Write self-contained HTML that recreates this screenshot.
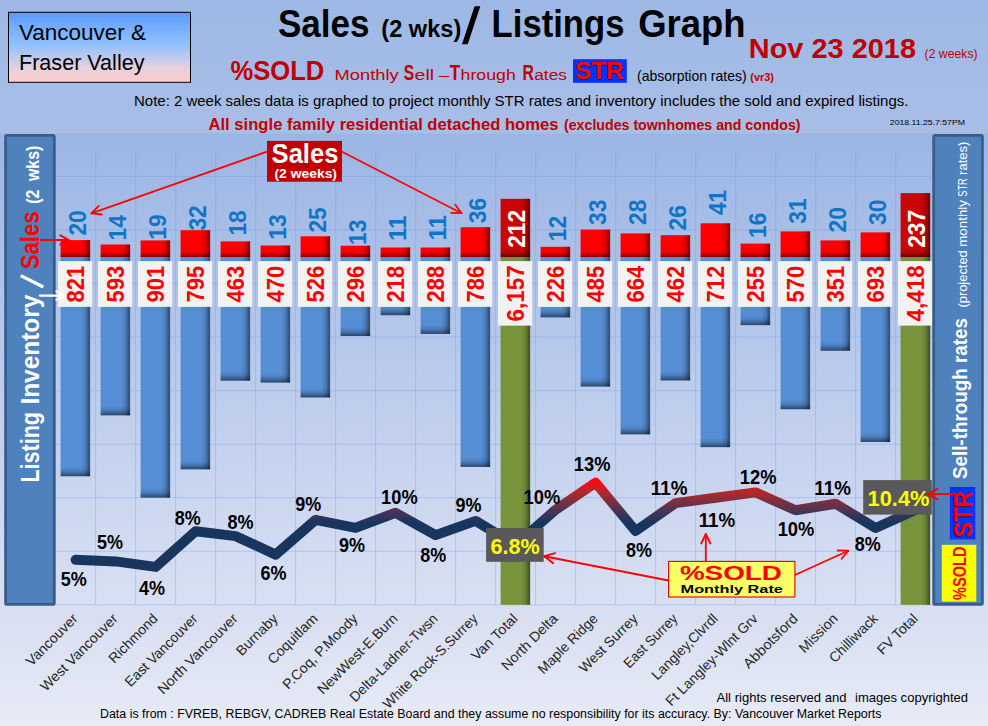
<!DOCTYPE html>
<html><head><meta charset="utf-8"><title>Sales / Listings Graph</title>
<style>
html,body{margin:0;padding:0;background:#e7ebf7;}
body{width:988px;height:726px;overflow:hidden;font-family:"Liberation Sans", sans-serif;}
svg{display:block;font-family:"Liberation Sans", sans-serif;}
text{font-family:"Liberation Sans", sans-serif;}
.b{font-weight:bold;}
</style></head><body>
<svg width="988" height="726" viewBox="0 0 988 726">
<defs>
<linearGradient id="bg" x1="0" y1="0" x2="0" y2="1">
<stop offset="0" stop-color="#9db8e5"/><stop offset="0.18" stop-color="#a9bee7"/><stop offset="0.86" stop-color="#dae0f2"/><stop offset="1" stop-color="#e7ebf7"/></linearGradient>
<linearGradient id="plot" x1="0" y1="0" x2="0" y2="1">
<stop offset="0" stop-color="#9bb5e4"/><stop offset="1" stop-color="#d9e0f3"/></linearGradient>
<linearGradient id="vbox" x1="0" y1="0" x2="0" y2="1">
<stop offset="0" stop-color="#5b9bff"/><stop offset="0.45" stop-color="#8fc0ff"/><stop offset="0.8" stop-color="#e6d0de"/><stop offset="1" stop-color="#ffcccc"/></linearGradient>
<linearGradient id="redbar" x1="0" y1="0" x2="0" y2="1">
<stop offset="0" stop-color="#ff0000"/><stop offset="0.55" stop-color="#ff0000"/><stop offset="1" stop-color="#b00000"/></linearGradient>
<linearGradient id="edgeR" x1="0" y1="0" x2="1" y2="0">
<stop offset="0" stop-color="#000" stop-opacity="0"/><stop offset="0.7" stop-color="#000" stop-opacity="0"/><stop offset="0.84" stop-color="#000" stop-opacity="0.13"/><stop offset="1" stop-color="#000" stop-opacity="0.48"/></linearGradient>
<linearGradient id="edgeB" x1="0" y1="0" x2="0" y2="1">
<stop offset="0" stop-color="#000" stop-opacity="0"/><stop offset="0.45" stop-color="#000" stop-opacity="0.12"/><stop offset="1" stop-color="#000" stop-opacity="0.5"/></linearGradient>
<linearGradient id="lineg" gradientUnits="userSpaceOnUse" x1="0" y1="481" x2="0" y2="523">
<stop offset="0" stop-color="#ff0a0a"/><stop offset="0.25" stop-color="#b6272b"/><stop offset="0.5" stop-color="#7a3040"/><stop offset="0.75" stop-color="#433458"/><stop offset="1" stop-color="#18355e"/></linearGradient>
<linearGradient id="totred" x1="0" y1="0" x2="0" y2="1">
<stop offset="0" stop-color="#d00000"/><stop offset="0.7" stop-color="#c00000"/><stop offset="1" stop-color="#8a0000"/></linearGradient>
</defs>
<rect x="0" y="0" width="988" height="726" fill="url(#bg)"/>
<rect x="0" y="133.5" width="988" height="471.9" fill="url(#plot)"/>

<g stroke="#6f9fe8" stroke-opacity="0.37" stroke-width="1" fill="none">
<line x1="95.6" y1="149" x2="95.6" y2="604.8"/>
<line x1="135.6" y1="149" x2="135.6" y2="604.8"/>
<line x1="175.6" y1="149" x2="175.6" y2="604.8"/>
<line x1="215.6" y1="149" x2="215.6" y2="604.8"/>
<line x1="255.6" y1="149" x2="255.6" y2="604.8"/>
<line x1="295.6" y1="149" x2="295.6" y2="604.8"/>
<line x1="335.6" y1="149" x2="335.6" y2="604.8"/>
<line x1="375.6" y1="149" x2="375.6" y2="604.8"/>
<line x1="415.6" y1="149" x2="415.6" y2="604.8"/>
<line x1="455.6" y1="149" x2="455.6" y2="604.8"/>
<line x1="495.6" y1="149" x2="495.6" y2="604.8"/>
<line x1="535.6" y1="149" x2="535.6" y2="604.8"/>
<line x1="575.6" y1="149" x2="575.6" y2="604.8"/>
<line x1="615.6" y1="149" x2="615.6" y2="604.8"/>
<line x1="655.6" y1="149" x2="655.6" y2="604.8"/>
<line x1="695.6" y1="149" x2="695.6" y2="604.8"/>
<line x1="735.6" y1="149" x2="735.6" y2="604.8"/>
<line x1="775.6" y1="149" x2="775.6" y2="604.8"/>
<line x1="815.6" y1="149" x2="815.6" y2="604.8"/>
<line x1="855.6" y1="149" x2="855.6" y2="604.8"/>
<line x1="895.6" y1="149" x2="895.6" y2="604.8"/>
<line x1="56" y1="176.5" x2="932" y2="176.5"/>
<line x1="56" y1="230.0" x2="932" y2="230.0"/>
<line x1="56" y1="283.6" x2="932" y2="283.6"/>
<line x1="56" y1="337.1" x2="932" y2="337.1"/>
<line x1="56" y1="390.7" x2="932" y2="390.7"/>
<line x1="56" y1="444.2" x2="932" y2="444.2"/>
<line x1="56" y1="497.7" x2="932" y2="497.7"/>
<line x1="56" y1="551.3" x2="932" y2="551.3"/>
<line x1="56" y1="604.8" x2="932" y2="604.8"/>
</g>
<rect x="60.6" y="257.0" width="29.5" height="219.2" fill="#558ed5"/>
<rect x="60.6" y="466.8" width="29.5" height="9.4" fill="url(#edgeB)"/>
<rect x="60.6" y="257.0" width="29.5" height="219.2" fill="url(#edgeR)"/>
<rect x="60.6" y="240.1" width="29.5" height="16.9" fill="#ff0000"/>
<rect x="60.6" y="250.2" width="29.5" height="6.8" fill="url(#edgeB)"/>
<rect x="60.6" y="240.1" width="29.5" height="16.9" fill="url(#edgeR)"/>
<rect x="100.6" y="257.0" width="29.5" height="158.3" fill="#558ed5"/>
<rect x="100.6" y="405.9" width="29.5" height="9.4" fill="url(#edgeB)"/>
<rect x="100.6" y="257.0" width="29.5" height="158.3" fill="url(#edgeR)"/>
<rect x="100.6" y="244.5" width="29.5" height="12.5" fill="#ff0000"/>
<rect x="100.6" y="250.2" width="29.5" height="6.8" fill="url(#edgeB)"/>
<rect x="100.6" y="244.5" width="29.5" height="12.5" fill="url(#edgeR)"/>
<rect x="140.6" y="257.0" width="29.5" height="240.6" fill="#558ed5"/>
<rect x="140.6" y="488.2" width="29.5" height="9.4" fill="url(#edgeB)"/>
<rect x="140.6" y="257.0" width="29.5" height="240.6" fill="url(#edgeR)"/>
<rect x="140.6" y="240.4" width="29.5" height="16.6" fill="#ff0000"/>
<rect x="140.6" y="250.2" width="29.5" height="6.8" fill="url(#edgeB)"/>
<rect x="140.6" y="240.4" width="29.5" height="16.6" fill="url(#edgeR)"/>
<rect x="180.6" y="257.0" width="29.5" height="212.3" fill="#558ed5"/>
<rect x="180.6" y="459.9" width="29.5" height="9.4" fill="url(#edgeB)"/>
<rect x="180.6" y="257.0" width="29.5" height="212.3" fill="url(#edgeR)"/>
<rect x="180.6" y="230.2" width="29.5" height="26.8" fill="#ff0000"/>
<rect x="180.6" y="250.2" width="29.5" height="6.8" fill="url(#edgeB)"/>
<rect x="180.6" y="230.2" width="29.5" height="26.8" fill="url(#edgeR)"/>
<rect x="220.6" y="257.0" width="29.5" height="123.6" fill="#558ed5"/>
<rect x="220.6" y="371.2" width="29.5" height="9.4" fill="url(#edgeB)"/>
<rect x="220.6" y="257.0" width="29.5" height="123.6" fill="url(#edgeR)"/>
<rect x="220.6" y="241.4" width="29.5" height="15.6" fill="#ff0000"/>
<rect x="220.6" y="250.2" width="29.5" height="6.8" fill="url(#edgeB)"/>
<rect x="220.6" y="241.4" width="29.5" height="15.6" fill="url(#edgeR)"/>
<rect x="260.6" y="257.0" width="29.5" height="125.5" fill="#558ed5"/>
<rect x="260.6" y="373.1" width="29.5" height="9.4" fill="url(#edgeB)"/>
<rect x="260.6" y="257.0" width="29.5" height="125.5" fill="url(#edgeR)"/>
<rect x="260.6" y="245.5" width="29.5" height="11.5" fill="#ff0000"/>
<rect x="260.6" y="250.2" width="29.5" height="6.8" fill="url(#edgeB)"/>
<rect x="260.6" y="245.5" width="29.5" height="11.5" fill="url(#edgeR)"/>
<rect x="300.6" y="257.0" width="29.5" height="140.4" fill="#558ed5"/>
<rect x="300.6" y="388.0" width="29.5" height="9.4" fill="url(#edgeB)"/>
<rect x="300.6" y="257.0" width="29.5" height="140.4" fill="url(#edgeR)"/>
<rect x="300.6" y="236.3" width="29.5" height="20.7" fill="#ff0000"/>
<rect x="300.6" y="250.2" width="29.5" height="6.8" fill="url(#edgeB)"/>
<rect x="300.6" y="236.3" width="29.5" height="20.7" fill="url(#edgeR)"/>
<rect x="340.6" y="257.0" width="29.5" height="79.0" fill="#558ed5"/>
<rect x="340.6" y="326.6" width="29.5" height="9.4" fill="url(#edgeB)"/>
<rect x="340.6" y="257.0" width="29.5" height="79.0" fill="url(#edgeR)"/>
<rect x="340.6" y="245.7" width="29.5" height="11.3" fill="#ff0000"/>
<rect x="340.6" y="250.2" width="29.5" height="6.8" fill="url(#edgeB)"/>
<rect x="340.6" y="245.7" width="29.5" height="11.3" fill="url(#edgeR)"/>
<rect x="380.6" y="257.0" width="29.5" height="58.2" fill="#558ed5"/>
<rect x="380.6" y="305.8" width="29.5" height="9.4" fill="url(#edgeB)"/>
<rect x="380.6" y="257.0" width="29.5" height="58.2" fill="url(#edgeR)"/>
<rect x="380.6" y="247.5" width="29.5" height="9.5" fill="#ff0000"/>
<rect x="380.6" y="250.2" width="29.5" height="6.8" fill="url(#edgeB)"/>
<rect x="380.6" y="247.5" width="29.5" height="9.5" fill="url(#edgeR)"/>
<rect x="420.6" y="257.0" width="29.5" height="76.9" fill="#558ed5"/>
<rect x="420.6" y="324.5" width="29.5" height="9.4" fill="url(#edgeB)"/>
<rect x="420.6" y="257.0" width="29.5" height="76.9" fill="url(#edgeR)"/>
<rect x="420.6" y="247.5" width="29.5" height="9.5" fill="#ff0000"/>
<rect x="420.6" y="250.2" width="29.5" height="6.8" fill="url(#edgeB)"/>
<rect x="420.6" y="247.5" width="29.5" height="9.5" fill="url(#edgeR)"/>
<rect x="460.6" y="257.0" width="29.5" height="209.9" fill="#558ed5"/>
<rect x="460.6" y="457.5" width="29.5" height="9.4" fill="url(#edgeB)"/>
<rect x="460.6" y="257.0" width="29.5" height="209.9" fill="url(#edgeR)"/>
<rect x="460.6" y="227.2" width="29.5" height="29.8" fill="#ff0000"/>
<rect x="460.6" y="250.2" width="29.5" height="6.8" fill="url(#edgeB)"/>
<rect x="460.6" y="227.2" width="29.5" height="29.8" fill="url(#edgeR)"/>
<rect x="500.6" y="257.0" width="29.5" height="347.8" fill="#77933c"/>
<rect x="500.6" y="604.8" width="29.5" height="0.0" fill="url(#edgeB)"/>
<rect x="500.6" y="257.0" width="29.5" height="347.8" fill="url(#edgeR)"/>
<rect x="500.6" y="198.8" width="29.5" height="58.2" fill="#c90505"/>
<rect x="500.6" y="249.5" width="29.5" height="7.5" fill="url(#edgeB)"/>
<rect x="500.6" y="198.8" width="29.5" height="58.2" fill="url(#edgeR)"/>
<rect x="540.6" y="257.0" width="29.5" height="60.3" fill="#558ed5"/>
<rect x="540.6" y="307.9" width="29.5" height="9.4" fill="url(#edgeB)"/>
<rect x="540.6" y="257.0" width="29.5" height="60.3" fill="url(#edgeR)"/>
<rect x="540.6" y="246.8" width="29.5" height="10.2" fill="#ff0000"/>
<rect x="540.6" y="250.2" width="29.5" height="6.8" fill="url(#edgeB)"/>
<rect x="540.6" y="246.8" width="29.5" height="10.2" fill="url(#edgeR)"/>
<rect x="580.6" y="257.0" width="29.5" height="129.5" fill="#558ed5"/>
<rect x="580.6" y="377.1" width="29.5" height="9.4" fill="url(#edgeB)"/>
<rect x="580.6" y="257.0" width="29.5" height="129.5" fill="url(#edgeR)"/>
<rect x="580.6" y="229.6" width="29.5" height="27.4" fill="#ff0000"/>
<rect x="580.6" y="250.2" width="29.5" height="6.8" fill="url(#edgeB)"/>
<rect x="580.6" y="229.6" width="29.5" height="27.4" fill="url(#edgeR)"/>
<rect x="620.6" y="257.0" width="29.5" height="177.3" fill="#558ed5"/>
<rect x="620.6" y="424.9" width="29.5" height="9.4" fill="url(#edgeB)"/>
<rect x="620.6" y="257.0" width="29.5" height="177.3" fill="url(#edgeR)"/>
<rect x="620.6" y="233.4" width="29.5" height="23.6" fill="#ff0000"/>
<rect x="620.6" y="250.2" width="29.5" height="6.8" fill="url(#edgeB)"/>
<rect x="620.6" y="233.4" width="29.5" height="23.6" fill="url(#edgeR)"/>
<rect x="660.6" y="257.0" width="29.5" height="123.4" fill="#558ed5"/>
<rect x="660.6" y="371.0" width="29.5" height="9.4" fill="url(#edgeB)"/>
<rect x="660.6" y="257.0" width="29.5" height="123.4" fill="url(#edgeR)"/>
<rect x="660.6" y="235.2" width="29.5" height="21.8" fill="#ff0000"/>
<rect x="660.6" y="250.2" width="29.5" height="6.8" fill="url(#edgeB)"/>
<rect x="660.6" y="235.2" width="29.5" height="21.8" fill="url(#edgeR)"/>
<rect x="700.6" y="257.0" width="29.5" height="190.1" fill="#558ed5"/>
<rect x="700.6" y="437.7" width="29.5" height="9.4" fill="url(#edgeB)"/>
<rect x="700.6" y="257.0" width="29.5" height="190.1" fill="url(#edgeR)"/>
<rect x="700.6" y="223.3" width="29.5" height="33.7" fill="#ff0000"/>
<rect x="700.6" y="250.2" width="29.5" height="6.8" fill="url(#edgeB)"/>
<rect x="700.6" y="223.3" width="29.5" height="33.7" fill="url(#edgeR)"/>
<rect x="740.6" y="257.0" width="29.5" height="68.1" fill="#558ed5"/>
<rect x="740.6" y="315.7" width="29.5" height="9.4" fill="url(#edgeB)"/>
<rect x="740.6" y="257.0" width="29.5" height="68.1" fill="url(#edgeR)"/>
<rect x="740.6" y="243.6" width="29.5" height="13.4" fill="#ff0000"/>
<rect x="740.6" y="250.2" width="29.5" height="6.8" fill="url(#edgeB)"/>
<rect x="740.6" y="243.6" width="29.5" height="13.4" fill="url(#edgeR)"/>
<rect x="780.6" y="257.0" width="29.5" height="152.2" fill="#558ed5"/>
<rect x="780.6" y="399.8" width="29.5" height="9.4" fill="url(#edgeB)"/>
<rect x="780.6" y="257.0" width="29.5" height="152.2" fill="url(#edgeR)"/>
<rect x="780.6" y="231.4" width="29.5" height="25.6" fill="#ff0000"/>
<rect x="780.6" y="250.2" width="29.5" height="6.8" fill="url(#edgeB)"/>
<rect x="780.6" y="231.4" width="29.5" height="25.6" fill="url(#edgeR)"/>
<rect x="820.6" y="257.0" width="29.5" height="93.7" fill="#558ed5"/>
<rect x="820.6" y="341.3" width="29.5" height="9.4" fill="url(#edgeB)"/>
<rect x="820.6" y="257.0" width="29.5" height="93.7" fill="url(#edgeR)"/>
<rect x="820.6" y="240.4" width="29.5" height="16.6" fill="#ff0000"/>
<rect x="820.6" y="250.2" width="29.5" height="6.8" fill="url(#edgeB)"/>
<rect x="820.6" y="240.4" width="29.5" height="16.6" fill="url(#edgeR)"/>
<rect x="860.6" y="257.0" width="29.5" height="185.0" fill="#558ed5"/>
<rect x="860.6" y="432.6" width="29.5" height="9.4" fill="url(#edgeB)"/>
<rect x="860.6" y="257.0" width="29.5" height="185.0" fill="url(#edgeR)"/>
<rect x="860.6" y="232.4" width="29.5" height="24.6" fill="#ff0000"/>
<rect x="860.6" y="250.2" width="29.5" height="6.8" fill="url(#edgeB)"/>
<rect x="860.6" y="232.4" width="29.5" height="24.6" fill="url(#edgeR)"/>
<rect x="900.6" y="257.0" width="29.5" height="347.8" fill="#77933c"/>
<rect x="900.6" y="604.8" width="29.5" height="0.0" fill="url(#edgeB)"/>
<rect x="900.6" y="257.0" width="29.5" height="347.8" fill="url(#edgeR)"/>
<rect x="900.6" y="193.1" width="29.5" height="63.9" fill="#c90505"/>
<rect x="900.6" y="249.5" width="29.5" height="7.5" fill="url(#edgeB)"/>
<rect x="900.6" y="193.1" width="29.5" height="63.9" fill="url(#edgeR)"/>
<rect x="58.0" y="261.1" width="34.2" height="45.8" fill="#f2f2f2"/>
<text class="b" transform="translate(84.2,284.1) rotate(-90)" text-anchor="middle" font-size="23" fill="#ff0000" textLength="36.7" lengthAdjust="spacingAndGlyphs">821</text>
<rect x="98.0" y="261.1" width="34.2" height="45.8" fill="#f2f2f2"/>
<text class="b" transform="translate(124.2,284.1) rotate(-90)" text-anchor="middle" font-size="23" fill="#ff0000" textLength="36.7" lengthAdjust="spacingAndGlyphs">593</text>
<rect x="138.0" y="261.1" width="34.2" height="45.8" fill="#f2f2f2"/>
<text class="b" transform="translate(164.2,284.1) rotate(-90)" text-anchor="middle" font-size="23" fill="#ff0000" textLength="36.7" lengthAdjust="spacingAndGlyphs">901</text>
<rect x="178.0" y="261.1" width="34.2" height="45.8" fill="#f2f2f2"/>
<text class="b" transform="translate(204.2,284.1) rotate(-90)" text-anchor="middle" font-size="23" fill="#ff0000" textLength="36.7" lengthAdjust="spacingAndGlyphs">795</text>
<rect x="218.0" y="261.1" width="34.2" height="45.8" fill="#f2f2f2"/>
<text class="b" transform="translate(244.2,284.1) rotate(-90)" text-anchor="middle" font-size="23" fill="#ff0000" textLength="36.7" lengthAdjust="spacingAndGlyphs">463</text>
<rect x="258.0" y="261.1" width="34.2" height="45.8" fill="#f2f2f2"/>
<text class="b" transform="translate(284.2,284.1) rotate(-90)" text-anchor="middle" font-size="23" fill="#ff0000" textLength="36.7" lengthAdjust="spacingAndGlyphs">470</text>
<rect x="298.0" y="261.1" width="34.2" height="45.8" fill="#f2f2f2"/>
<text class="b" transform="translate(324.2,284.1) rotate(-90)" text-anchor="middle" font-size="23" fill="#ff0000" textLength="36.7" lengthAdjust="spacingAndGlyphs">526</text>
<rect x="338.0" y="261.1" width="34.2" height="45.8" fill="#f2f2f2"/>
<text class="b" transform="translate(364.2,284.1) rotate(-90)" text-anchor="middle" font-size="23" fill="#ff0000" textLength="36.7" lengthAdjust="spacingAndGlyphs">296</text>
<rect x="378.0" y="261.1" width="34.2" height="45.8" fill="#f2f2f2"/>
<text class="b" transform="translate(404.2,284.1) rotate(-90)" text-anchor="middle" font-size="23" fill="#ff0000" textLength="36.7" lengthAdjust="spacingAndGlyphs">218</text>
<rect x="418.0" y="261.1" width="34.2" height="45.8" fill="#f2f2f2"/>
<text class="b" transform="translate(444.2,284.1) rotate(-90)" text-anchor="middle" font-size="23" fill="#ff0000" textLength="36.7" lengthAdjust="spacingAndGlyphs">288</text>
<rect x="458.0" y="261.1" width="34.2" height="45.8" fill="#f2f2f2"/>
<text class="b" transform="translate(484.2,284.1) rotate(-90)" text-anchor="middle" font-size="23" fill="#ff0000" textLength="36.7" lengthAdjust="spacingAndGlyphs">786</text>
<rect x="498.0" y="261.1" width="34.2" height="64.5" fill="#f2f2f2"/>
<text class="b" transform="translate(524.2,293.4) rotate(-90)" text-anchor="middle" font-size="23" fill="#ff0000" textLength="56" lengthAdjust="spacingAndGlyphs">6,157</text>
<rect x="538.0" y="261.1" width="34.2" height="45.8" fill="#f2f2f2"/>
<text class="b" transform="translate(564.2,284.1) rotate(-90)" text-anchor="middle" font-size="23" fill="#ff0000" textLength="36.7" lengthAdjust="spacingAndGlyphs">226</text>
<rect x="578.0" y="261.1" width="34.2" height="45.8" fill="#f2f2f2"/>
<text class="b" transform="translate(604.2,284.1) rotate(-90)" text-anchor="middle" font-size="23" fill="#ff0000" textLength="36.7" lengthAdjust="spacingAndGlyphs">485</text>
<rect x="618.0" y="261.1" width="34.2" height="45.8" fill="#f2f2f2"/>
<text class="b" transform="translate(644.2,284.1) rotate(-90)" text-anchor="middle" font-size="23" fill="#ff0000" textLength="36.7" lengthAdjust="spacingAndGlyphs">664</text>
<rect x="658.0" y="261.1" width="34.2" height="45.8" fill="#f2f2f2"/>
<text class="b" transform="translate(684.2,284.1) rotate(-90)" text-anchor="middle" font-size="23" fill="#ff0000" textLength="36.7" lengthAdjust="spacingAndGlyphs">462</text>
<rect x="698.0" y="261.1" width="34.2" height="45.8" fill="#f2f2f2"/>
<text class="b" transform="translate(724.2,284.1) rotate(-90)" text-anchor="middle" font-size="23" fill="#ff0000" textLength="36.7" lengthAdjust="spacingAndGlyphs">712</text>
<rect x="738.0" y="261.1" width="34.2" height="45.8" fill="#f2f2f2"/>
<text class="b" transform="translate(764.2,284.1) rotate(-90)" text-anchor="middle" font-size="23" fill="#ff0000" textLength="36.7" lengthAdjust="spacingAndGlyphs">255</text>
<rect x="778.0" y="261.1" width="34.2" height="45.8" fill="#f2f2f2"/>
<text class="b" transform="translate(804.2,284.1) rotate(-90)" text-anchor="middle" font-size="23" fill="#ff0000" textLength="36.7" lengthAdjust="spacingAndGlyphs">570</text>
<rect x="818.0" y="261.1" width="34.2" height="45.8" fill="#f2f2f2"/>
<text class="b" transform="translate(844.2,284.1) rotate(-90)" text-anchor="middle" font-size="23" fill="#ff0000" textLength="36.7" lengthAdjust="spacingAndGlyphs">351</text>
<rect x="858.0" y="261.1" width="34.2" height="45.8" fill="#f2f2f2"/>
<text class="b" transform="translate(884.2,284.1) rotate(-90)" text-anchor="middle" font-size="23" fill="#ff0000" textLength="36.7" lengthAdjust="spacingAndGlyphs">693</text>
<rect x="898.0" y="261.1" width="34.2" height="64.5" fill="#f2f2f2"/>
<text class="b" transform="translate(924.2,293.4) rotate(-90)" text-anchor="middle" font-size="23" fill="#ff0000" textLength="56" lengthAdjust="spacingAndGlyphs">4,418</text>
<text class="b" transform="translate(85.7,235.6) rotate(-90)" font-size="23" fill="#0f75c6" textLength="25.4" lengthAdjust="spacingAndGlyphs">20</text>
<text class="b" transform="translate(125.7,240.5) rotate(-90)" font-size="23" fill="#0f75c6" textLength="25.4" lengthAdjust="spacingAndGlyphs">14</text>
<text class="b" transform="translate(165.7,239.8) rotate(-90)" font-size="23" fill="#0f75c6" textLength="25.4" lengthAdjust="spacingAndGlyphs">19</text>
<text class="b" transform="translate(205.7,230.6) rotate(-90)" font-size="23" fill="#0f75c6" textLength="25.4" lengthAdjust="spacingAndGlyphs">32</text>
<text class="b" transform="translate(245.7,235.6) rotate(-90)" font-size="23" fill="#0f75c6" textLength="25.4" lengthAdjust="spacingAndGlyphs">18</text>
<text class="b" transform="translate(285.7,239.8) rotate(-90)" font-size="23" fill="#0f75c6" textLength="25.4" lengthAdjust="spacingAndGlyphs">13</text>
<text class="b" transform="translate(325.7,232.6) rotate(-90)" font-size="23" fill="#0f75c6" textLength="25.4" lengthAdjust="spacingAndGlyphs">25</text>
<text class="b" transform="translate(365.7,245.0) rotate(-90)" font-size="23" fill="#0f75c6" textLength="25.4" lengthAdjust="spacingAndGlyphs">13</text>
<text class="b" transform="translate(405.7,241.0) rotate(-90)" font-size="23" fill="#0f75c6" textLength="25.4" lengthAdjust="spacingAndGlyphs">11</text>
<text class="b" transform="translate(445.7,240.5) rotate(-90)" font-size="23" fill="#0f75c6" textLength="25.4" lengthAdjust="spacingAndGlyphs">11</text>
<text class="b" transform="translate(485.7,223.2) rotate(-90)" font-size="23" fill="#0f75c6" textLength="25.4" lengthAdjust="spacingAndGlyphs">36</text>
<text class="b" transform="translate(524.9,228.8) rotate(-90)" text-anchor="middle" font-size="23" fill="#ffffff" textLength="38" lengthAdjust="spacingAndGlyphs">212</text>
<text class="b" transform="translate(565.7,241.2) rotate(-90)" font-size="23" fill="#0f75c6" textLength="25.4" lengthAdjust="spacingAndGlyphs">12</text>
<text class="b" transform="translate(605.7,225.0) rotate(-90)" font-size="23" fill="#0f75c6" textLength="25.4" lengthAdjust="spacingAndGlyphs">33</text>
<text class="b" transform="translate(645.7,225.0) rotate(-90)" font-size="23" fill="#0f75c6" textLength="25.4" lengthAdjust="spacingAndGlyphs">28</text>
<text class="b" transform="translate(685.7,230.5) rotate(-90)" font-size="23" fill="#0f75c6" textLength="25.4" lengthAdjust="spacingAndGlyphs">26</text>
<text class="b" transform="translate(725.7,215.1) rotate(-90)" font-size="23" fill="#0f75c6" textLength="25.4" lengthAdjust="spacingAndGlyphs">41</text>
<text class="b" transform="translate(765.7,237.9) rotate(-90)" font-size="23" fill="#0f75c6" textLength="25.4" lengthAdjust="spacingAndGlyphs">16</text>
<text class="b" transform="translate(805.7,223.8) rotate(-90)" font-size="23" fill="#0f75c6" textLength="25.4" lengthAdjust="spacingAndGlyphs">31</text>
<text class="b" transform="translate(845.7,232.5) rotate(-90)" font-size="23" fill="#0f75c6" textLength="25.4" lengthAdjust="spacingAndGlyphs">20</text>
<text class="b" transform="translate(885.7,225.0) rotate(-90)" font-size="23" fill="#0f75c6" textLength="25.4" lengthAdjust="spacingAndGlyphs">30</text>
<text class="b" transform="translate(924.9,228.8) rotate(-90)" text-anchor="middle" font-size="23" fill="#ffffff" textLength="38" lengthAdjust="spacingAndGlyphs">237</text>
<polyline points="75.6,559.8 115.6,561.4 155.6,566.9 195.6,531.3 235.6,536.1 275.6,554.6 315.6,519.9 355.6,527.8 395.6,512.8 435.6,535.1 475.6,520.9 515.6,545.0 555.6,509.8 595.6,482.7 635.6,531.0 675.6,503.1 715.6,497.7 755.6,492.4 795.6,510.2 835.6,503.7 875.6,528.0 915.6,510.0" fill="none" stroke="url(#lineg)" stroke-width="10" stroke-linecap="round" stroke-linejoin="round"/>
<text class="b" x="60.7" y="586.4" font-size="20.8" fill="#000" textLength="26" lengthAdjust="spacingAndGlyphs">5%</text>
<text class="b" x="97.0" y="549.1" font-size="20.8" fill="#000" textLength="26" lengthAdjust="spacingAndGlyphs">5%</text>
<text class="b" x="139.0" y="595.1" font-size="20.8" fill="#000" textLength="26" lengthAdjust="spacingAndGlyphs">4%</text>
<text class="b" x="174.7" y="524.8" font-size="20.8" fill="#000" textLength="26" lengthAdjust="spacingAndGlyphs">8%</text>
<text class="b" x="227.5" y="528.7" font-size="20.8" fill="#000" textLength="26" lengthAdjust="spacingAndGlyphs">8%</text>
<text class="b" x="260.5" y="579.9" font-size="20.8" fill="#000" textLength="26" lengthAdjust="spacingAndGlyphs">6%</text>
<text class="b" x="295.2" y="510.9" font-size="20.8" fill="#000" textLength="26" lengthAdjust="spacingAndGlyphs">9%</text>
<text class="b" x="338.9" y="552.4" font-size="20.8" fill="#000" textLength="26" lengthAdjust="spacingAndGlyphs">9%</text>
<text class="b" x="381.1" y="504.4" font-size="20.8" fill="#000" textLength="36.6" lengthAdjust="spacingAndGlyphs">10%</text>
<text class="b" x="420.3" y="562.1" font-size="20.8" fill="#000" textLength="26" lengthAdjust="spacingAndGlyphs">8%</text>
<text class="b" x="455.6" y="511.9" font-size="20.8" fill="#000" textLength="26" lengthAdjust="spacingAndGlyphs">9%</text>
<text class="b" x="523.6" y="503.5" font-size="20.8" fill="#000" textLength="36.6" lengthAdjust="spacingAndGlyphs">10%</text>
<text class="b" x="573.8" y="471.4" font-size="20.8" fill="#000" textLength="36.6" lengthAdjust="spacingAndGlyphs">13%</text>
<text class="b" x="626.0" y="556.9" font-size="20.8" fill="#000" textLength="26" lengthAdjust="spacingAndGlyphs">8%</text>
<text class="b" x="650.8" y="494.7" font-size="20.8" fill="#000" textLength="36.6" lengthAdjust="spacingAndGlyphs">11%</text>
<text class="b" x="698.7" y="527.1" font-size="20.8" fill="#000" textLength="36.6" lengthAdjust="spacingAndGlyphs">11%</text>
<text class="b" x="739.8" y="484.3" font-size="20.8" fill="#000" textLength="36.6" lengthAdjust="spacingAndGlyphs">12%</text>
<text class="b" x="777.7" y="535.8" font-size="20.8" fill="#000" textLength="36.6" lengthAdjust="spacingAndGlyphs">10%</text>
<text class="b" x="814.3" y="494.7" font-size="20.8" fill="#000" textLength="36.6" lengthAdjust="spacingAndGlyphs">11%</text>
<text class="b" x="854.8" y="550.7" font-size="20.8" fill="#000" textLength="26" lengthAdjust="spacingAndGlyphs">8%</text>
<rect x="486.1" y="528" width="57.6" height="33.8" fill="#595959"/>
<text class="b" x="490.4" y="553.7" font-size="22.7" fill="#ffff00" textLength="49.2" lengthAdjust="spacingAndGlyphs">6.8%</text>
<rect x="863.2" y="480.1" width="68.6" height="34.5" fill="#595959"/>
<text class="b" x="867.6" y="505.8" font-size="22.7" fill="#ffff00" textLength="61.8" lengthAdjust="spacingAndGlyphs">10.4%</text>
<rect x="5.6" y="135.4" width="48.7" height="469" fill="#4f81bd" stroke="#385d8a" stroke-width="2.8" rx="1.5"/>
<rect x="933.7" y="135.4" width="48.7" height="469" fill="#4f81bd" stroke="#385d8a" stroke-width="2.8" rx="1.5"/>
<text class="b" transform="translate(39.2,482.6) rotate(-90)" font-size="26" fill="#fff" textLength="70.6" lengthAdjust="spacingAndGlyphs">Listing</text>
<text class="b" transform="translate(39.2,404.6) rotate(-90)" font-size="26" fill="#fff" textLength="110" lengthAdjust="spacingAndGlyphs">Inventory</text>
<line x1="43.3" y1="287" x2="20.8" y2="275.6" stroke="#fff" stroke-width="3.3"/>
<text class="b" transform="translate(39.2,269.3) rotate(-90)" font-size="26" fill="#ff0000" textLength="58" lengthAdjust="spacingAndGlyphs">Sales</text>
<text class="b" transform="translate(39.3,203.8) rotate(-90)" font-size="17.5" fill="#fff" textLength="58" lengthAdjust="spacingAndGlyphs" xml:space="preserve">(2  wks)</text>
<text class="b" transform="translate(967.1,479.1) rotate(-90)" font-size="19.5" fill="#fff" textLength="161" lengthAdjust="spacingAndGlyphs">Sell-through rates</text>
<text transform="translate(967.1,307.6) rotate(-90)" font-size="12.4" fill="#fff" textLength="57.4" lengthAdjust="spacingAndGlyphs">(projected</text>
<text transform="translate(967.1,246.8) rotate(-90)" font-size="12.4" fill="#fff" textLength="46.8" lengthAdjust="spacingAndGlyphs">monthly</text>
<text transform="translate(967.1,196.7) rotate(-90)" font-size="12.4" fill="#fff" textLength="18.4" lengthAdjust="spacingAndGlyphs">STR</text>
<text transform="translate(967.1,174.9) rotate(-90)" font-size="12.4" fill="#fff" textLength="33.2" lengthAdjust="spacingAndGlyphs">rates)</text>
<rect x="949.9" y="487" width="25.4" height="52.4" fill="#0033ff"/>
<text class="b" transform="translate(972.4,538.2) rotate(-90)" font-size="26.3" fill="#1a1050" textLength="46.6" lengthAdjust="spacingAndGlyphs">STR</text>
<text class="b" transform="translate(971.6,537.4) rotate(-90)" font-size="26.3" fill="#ff0000" textLength="46.6" lengthAdjust="spacingAndGlyphs">STR</text>
<rect x="941.8" y="544.8" width="34.5" height="56.8" fill="#ffff00"/>
<text class="b" transform="translate(965.7,600) rotate(-90)" font-size="17.7" fill="#ff0000" textLength="53.5" lengthAdjust="spacingAndGlyphs">%SOLD</text>
<g stroke="#ff0000" stroke-width="1.8" fill="none" stroke-linecap="round" stroke-linejoin="round"><line x1="267.0" y1="151.7" x2="91.4" y2="213.3"/><polyline points="98.8,205.9 91.4,213.3 101.8,214.5"/></g>
<g stroke="#ff0000" stroke-width="1.8" fill="none" stroke-linecap="round" stroke-linejoin="round"><line x1="342.0" y1="151.7" x2="461.6" y2="213.2"/><polyline points="451.1,212.9 461.6,213.2 455.3,204.8"/></g>
<g stroke="#ff0000" stroke-width="2.0" fill="none" stroke-linecap="round" stroke-linejoin="round"><line x1="40.8" y1="239.9" x2="68.6" y2="239.9"/><polyline points="60.3,244.5 68.6,239.9 60.3,235.3"/></g>
<g stroke="#ffffff" stroke-width="2.1" fill="none" stroke-linecap="round" stroke-linejoin="round"><line x1="39.8" y1="295.6" x2="64.3" y2="295.6"/><polyline points="56.4,299.9 64.3,295.6 56.4,291.3"/></g>
<g stroke="#ff0000" stroke-width="1.9" fill="none" stroke-linecap="round" stroke-linejoin="round"><line x1="961.4" y1="494.1" x2="927.6" y2="494.1"/><polyline points="937.6,488.8 927.6,494.1 937.6,499.4"/></g>
<g stroke="#ff0000" stroke-width="1.9" fill="none" stroke-linecap="round" stroke-linejoin="round"><line x1="668.6" y1="580.5" x2="544.2" y2="556.2"/><polyline points="555.2,553.1 544.2,556.2 553.2,563.2"/></g>
<g stroke="#ff0000" stroke-width="1.8" fill="none" stroke-linecap="round" stroke-linejoin="round"><line x1="705.8" y1="561.4" x2="705.8" y2="534.0"/><polyline points="710.4,543.5 705.8,534.0 701.2,543.5"/></g>
<g stroke="#ff0000" stroke-width="1.8" fill="none" stroke-linecap="round" stroke-linejoin="round"><line x1="794.9" y1="575.0" x2="848.3" y2="550.7"/><polyline points="841.6,558.8 848.3,550.7 837.8,550.5"/></g>
<rect x="267" y="140.9" width="75" height="40.8" fill="#c00000"/>
<text class="b" x="271.6" y="162.9" font-size="27" fill="#fff" textLength="66.8" lengthAdjust="spacingAndGlyphs">Sales</text>
<text class="b" x="274.5" y="178" font-size="11.9" fill="#fff" textLength="62.5" lengthAdjust="spacingAndGlyphs">(2 weeks)</text>
<rect x="668.6" y="561.4" width="126.3" height="35.6" fill="#ffff66" stroke="#e00000" stroke-width="1.1"/>
<text class="b" x="679.9" y="580" font-size="20.2" fill="#ff0000" textLength="102" lengthAdjust="spacingAndGlyphs">%SOLD</text>
<text class="b" x="680.6" y="592.8" font-size="10.2" fill="#000" textLength="102.3" lengthAdjust="spacingAndGlyphs">Monthly Rate</text>
<rect x="8.5" y="12.3" width="182" height="70" fill="url(#vbox)" stroke="#000" stroke-width="1"/>
<text x="19" y="39.7" font-size="22.8" fill="#000" textLength="127" lengthAdjust="spacingAndGlyphs">Vancouver &amp;</text>
<text x="19" y="69.6" font-size="22.8" fill="#000" textLength="125.5" lengthAdjust="spacingAndGlyphs">Fraser Valley</text>
<text class="b" x="278" y="37" font-size="38.4" fill="#000" textLength="91.5" lengthAdjust="spacingAndGlyphs">Sales</text>
<text class="b" x="381.3" y="37" font-size="23.5" fill="#000" textLength="80" lengthAdjust="spacingAndGlyphs">(2 wks)</text>
<polygon points="462.0,44.3 467.7,44.3 480.3,6.3 474.6,6.3" fill="#000"/>
<text class="b" x="491.6" y="37" font-size="38.4" fill="#000" textLength="132.8" lengthAdjust="spacingAndGlyphs">Listings</text>
<text class="b" x="638.2" y="37" font-size="38.4" fill="#000" textLength="107.4" lengthAdjust="spacingAndGlyphs">Graph</text>
<text class="b" x="748.8" y="58" font-size="28" fill="#c00000" textLength="167.2" lengthAdjust="spacingAndGlyphs">Nov 23 2018</text>
<text x="924.6" y="58" font-size="13.5" fill="#c00000" textLength="53" lengthAdjust="spacingAndGlyphs">(2 weeks)</text>
<text class="b" x="230.4" y="79.6" font-size="27.4" fill="#c00000" textLength="94" lengthAdjust="spacingAndGlyphs">%SOLD</text>
<text x="334.6" y="79.6" font-size="15.3" fill="#c00000" textLength="64" lengthAdjust="spacingAndGlyphs">Monthly</text>
<text class="b" x="403.8" y="79.6" font-size="22" fill="#c00000" textLength="10.4" lengthAdjust="spacingAndGlyphs">S</text>
<text x="414.6" y="79.6" font-size="15.3" fill="#c00000" textLength="19.6" lengthAdjust="spacingAndGlyphs">ell</text>
<text x="438.8" y="79.6" font-size="15.3" fill="#c00000" textLength="10.4" lengthAdjust="spacingAndGlyphs">–</text>
<text class="b" x="449.8" y="79.6" font-size="22" fill="#c00000" textLength="10.6" lengthAdjust="spacingAndGlyphs">T</text>
<text x="460.6" y="79.6" font-size="15.3" fill="#c00000" textLength="55.2" lengthAdjust="spacingAndGlyphs">hrough</text>
<text class="b" x="522.6" y="79.6" font-size="22" fill="#c00000" textLength="11.4" lengthAdjust="spacingAndGlyphs">R</text>
<text x="534.2" y="79.6" font-size="15.3" fill="#c00000" textLength="32.8" lengthAdjust="spacingAndGlyphs">ates</text>
<rect x="573" y="59.2" width="53.8" height="23.6" fill="#0033ff"/>
<text class="b" x="576.2" y="80.2" font-size="24.3" fill="#101a70" textLength="48.6" lengthAdjust="spacingAndGlyphs">STR</text>
<text class="b" x="575" y="79.2" font-size="24.3" fill="#ff0000" textLength="48.6" lengthAdjust="spacingAndGlyphs">STR</text>
<text x="637" y="81.4" font-size="14.5" fill="#000" textLength="109.6" lengthAdjust="spacingAndGlyphs">(absorption rates)</text>
<text class="b" x="750.3" y="81.2" font-size="11" fill="#c00000" textLength="23.6" lengthAdjust="spacingAndGlyphs">(vr3)</text>
<text x="134" y="106" font-size="14.5" fill="#000" textLength="774.4" lengthAdjust="spacingAndGlyphs">Note: 2 week sales data is graphed to project monthly STR rates and inventory includes the sold and expired listings.</text>
<text class="b" x="208.5" y="130.3" font-size="15.8" fill="#c00000" textLength="350" lengthAdjust="spacingAndGlyphs">All single family residential detached homes</text>
<text class="b" x="564" y="130.3" font-size="14.6" fill="#c00000" textLength="236.5" lengthAdjust="spacingAndGlyphs">(excludes townhomes and condos)</text>
<text x="889.8" y="124.6" font-size="7.6" fill="#000" textLength="75.2" lengthAdjust="spacingAndGlyphs">2018.11.25.7:57PM</text>
<text transform="translate(78.6,619.5) rotate(-45)" text-anchor="end" font-size="14" fill="#262626" textLength="66.7" lengthAdjust="spacingAndGlyphs">Vancouver</text>
<text transform="translate(118.6,619.5) rotate(-45)" text-anchor="end" font-size="14" fill="#262626" textLength="102.6" lengthAdjust="spacingAndGlyphs">West Vancouver</text>
<text transform="translate(158.6,619.5) rotate(-45)" text-anchor="end" font-size="14" fill="#262626" textLength="62.9" lengthAdjust="spacingAndGlyphs">Richmond</text>
<text transform="translate(198.6,619.5) rotate(-45)" text-anchor="end" font-size="14" fill="#262626" textLength="96.2" lengthAdjust="spacingAndGlyphs">East Vancouver</text>
<text transform="translate(238.6,619.5) rotate(-45)" text-anchor="end" font-size="14" fill="#262626" textLength="106.7" lengthAdjust="spacingAndGlyphs">North Vancouver</text>
<text transform="translate(278.6,619.5) rotate(-45)" text-anchor="end" font-size="14" fill="#262626" textLength="52.2" lengthAdjust="spacingAndGlyphs">Burnaby</text>
<text transform="translate(318.6,619.5) rotate(-45)" text-anchor="end" font-size="14" fill="#262626" textLength="64.2" lengthAdjust="spacingAndGlyphs">Coquitlam</text>
<text transform="translate(358.6,619.5) rotate(-45)" text-anchor="end" font-size="14" fill="#262626" textLength="99.6" lengthAdjust="spacingAndGlyphs">P.Coq, P.Moody</text>
<text transform="translate(398.6,619.5) rotate(-45)" text-anchor="end" font-size="14" fill="#262626" textLength="106.9" lengthAdjust="spacingAndGlyphs">NewWest-E.Burn</text>
<text transform="translate(438.6,619.5) rotate(-45)" text-anchor="end" font-size="14" fill="#262626" textLength="117.9" lengthAdjust="spacingAndGlyphs">Delta-Ladner-Twsn</text>
<text transform="translate(478.6,619.5) rotate(-45)" text-anchor="end" font-size="14" fill="#262626" textLength="127.4" lengthAdjust="spacingAndGlyphs">White Rock-S.Surrey</text>
<text transform="translate(518.6,619.5) rotate(-45)" text-anchor="end" font-size="14" fill="#262626" textLength="59.2" lengthAdjust="spacingAndGlyphs">Van Total</text>
<text transform="translate(558.6,619.5) rotate(-45)" text-anchor="end" font-size="14" fill="#262626" textLength="73.1" lengthAdjust="spacingAndGlyphs">North Delta</text>
<text transform="translate(598.6,619.5) rotate(-45)" text-anchor="end" font-size="14" fill="#262626" textLength="78.0" lengthAdjust="spacingAndGlyphs">Maple Ridge</text>
<text transform="translate(638.6,619.5) rotate(-45)" text-anchor="end" font-size="14" fill="#262626" textLength="76.3" lengthAdjust="spacingAndGlyphs">West Surrey</text>
<text transform="translate(678.6,619.5) rotate(-45)" text-anchor="end" font-size="14" fill="#262626" textLength="69.9" lengthAdjust="spacingAndGlyphs">East Surrey</text>
<text transform="translate(718.6,619.5) rotate(-45)" text-anchor="end" font-size="14" fill="#262626" textLength="86.6" lengthAdjust="spacingAndGlyphs">Langley,Clvrdl</text>
<text transform="translate(758.6,619.5) rotate(-45)" text-anchor="end" font-size="14" fill="#262626" textLength="123.4" lengthAdjust="spacingAndGlyphs">Ft Langley-Wlnt Grv</text>
<text transform="translate(798.6,619.5) rotate(-45)" text-anchor="end" font-size="14" fill="#262626" textLength="70.4" lengthAdjust="spacingAndGlyphs">Abbotsford</text>
<text transform="translate(838.6,619.5) rotate(-45)" text-anchor="end" font-size="14" fill="#262626" textLength="48.3" lengthAdjust="spacingAndGlyphs">Mission</text>
<text transform="translate(878.6,619.5) rotate(-45)" text-anchor="end" font-size="14" fill="#262626" textLength="62.1" lengthAdjust="spacingAndGlyphs">Chilliwack</text>
<text transform="translate(918.6,619.5) rotate(-45)" text-anchor="end" font-size="14" fill="#262626" textLength="50.8" lengthAdjust="spacingAndGlyphs">FV Total</text>
<text x="716.5" y="702" font-size="13.3" fill="#000" textLength="130" lengthAdjust="spacingAndGlyphs">All rights reserved and</text>
<text x="855" y="702" font-size="13.3" fill="#000" textLength="113" lengthAdjust="spacingAndGlyphs">images copyrighted</text>
<text x="100" y="718" font-size="12" fill="#000" textLength="781.5" lengthAdjust="spacingAndGlyphs">Data is from : FVREB, REBGV, CADREB Real Estate Board and they assume no responsibility for its accuracy. By: Vancouver Market Reports</text>
</svg></body></html>
